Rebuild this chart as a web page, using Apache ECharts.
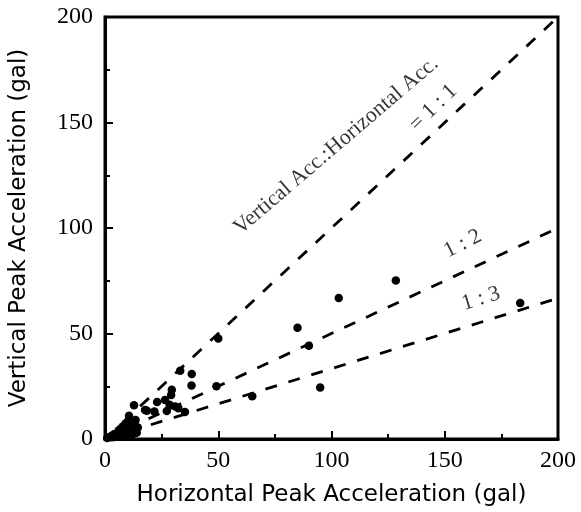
<!DOCTYPE html>
<html>
<head>
<meta charset="utf-8">
<script src="https://cdn.jsdelivr.net/npm/echarts@6/dist/echarts.min.js"></script>
<style>html,body{margin:0;padding:0;background:#fff;}#c{width:581px;height:512px;}</style>
</head>
<body>
<div id="c"></div>
<script>
// Tick values
const xTicks = [0, 50, 100, 150, 200];
const yTicks = [0, 50, 100, 150, 200];
// Observed points [horizontal, vertical] (gal)
const pointsH = [50, 49.2, 65, 85, 90, 103.2, 95, 128.4, 183.3,
  33.2, 38.3, 38.2, 29.5, 29.2, 26.5, 23, 28.5, 31, 35.3, 18.5, 21.8, 27.3, 32.4, 12.8, 10.6, 13.5, 12.5, 17.7,
  1, 2, 3, 4, 5, 6, 7, 8, 9, 10, 11, 4, 6, 8, 10, 12, 13, 7, 9, 11, 12, 3, 5, 9, 14,
  12, 13, 10, 8, 6, 14.5, 11.5];
const pointsV = [47.6, 25, 20.3, 52.7, 44.2, 66.8, 24.4, 75.1, 64.5,
  32.3, 30.8, 25.3, 23.3, 20.9, 18.5, 17.5, 16.2, 15.4, 12.8, 13.4, 13, 13.3, 14.6, 16, 11, 9, 6, 13.8,
  0.5, 1, 1.5, 2, 2.5, 3, 4, 4.5, 5, 5.5, 6, 1, 2, 2.5, 3, 4, 5, 5, 6.5, 8, 2, 0.8, 1.2, 1.5, 3,
  7, 8, 8, 6, 4, 5.5, 3.5];
// Ratio lines V:H
const ratioNames = ['1:1', '1:2', '1:3'];
const ratioEndV = [200, 100, 66.7];
// Annotations
const annoText = ['Vertical Acc.:Horizontal Acc.', '= 1 : 1', '1 : 2', '1 : 3'];
const annoX = [102, 145, 158, 166];
const annoY = [139, 157, 92.5, 66.5];
const annoRot = [40.5, 44, 27, 17];

const chart = echarts.init(document.getElementById('c'));
const serif = '"Liberation Serif", "Times New Roman", serif';
const sans = '"DejaVu Sans", sans-serif';

const series = [];
ratioNames.forEach((n, i) => {
  series.push({
    name: n, type: 'line', data: [[0, 0], [200, ratioEndV[i]]],
    symbol: 'none', silent: true,
    lineStyle: {color: '#000', width: 2.8, type: [12, 12]}
  });
});
series.push({
  name: 'obs', type: 'scatter',
  data: pointsH.map((h, i) => [h, pointsV[i]]),
  symbol: 'circle', symbolSize: 8.5,
  itemStyle: {color: '#000', opacity: 1}
});
annoText.forEach((t, i) => {
  series.push({
    type: 'scatter', symbolSize: 0, silent: true,
    data: [[annoX[i], annoY[i]]],
    label: {show: true, position: 'inside', formatter: t, rotate: annoRot[i],
      fontFamily: serif, fontSize: 22, color: '#000'}
  });
});

chart.setOption({
  animation: false,
  backgroundColor: '#fff',
  grid: {left: 103, right: 23, top: 17, bottom: 71, show: true, borderColor: '#000', borderWidth: 3},
  xAxis: {
    type: 'value', min: 0, max: 200, interval: 50,
    name: 'Horizontal Peak Acceleration (gal)', nameLocation: 'middle', nameGap: 45,
    nameTextStyle: {fontFamily: sans, fontSize: 23, color: '#000'},
    axisLine: {lineStyle: {color: '#000', width: 3}},
    axisTick: {inside: true, length: 8, lineStyle: {color: '#000', width: 2}},
    minorTick: {show: true, splitNumber: 2, length: 5, lineStyle: {color: '#000', width: 2}},
    splitLine: {show: false},
    axisLabel: {fontFamily: serif, fontSize: 24, color: '#000', margin: 10,
      formatter: v => xTicks.includes(v) ? String(v) : ''}
  },
  yAxis: {
    type: 'value', min: 0, max: 200, interval: 50,
    name: 'Vertical Peak Acceleration (gal)', nameLocation: 'middle', nameGap: 74,
    nameTextStyle: {fontFamily: sans, fontSize: 23, color: '#000'},
    axisLine: {lineStyle: {color: '#000', width: 3}},
    axisTick: {inside: true, length: 8, lineStyle: {color: '#000', width: 2}},
    minorTick: {show: true, splitNumber: 2, length: 5, lineStyle: {color: '#000', width: 2}},
    splitLine: {show: false},
    axisLabel: {fontFamily: serif, fontSize: 24, color: '#000', margin: 12,
      formatter: v => yTicks.includes(v) ? String(v) : ''}
  },
  series: series
});
</script>
</body>
</html>
